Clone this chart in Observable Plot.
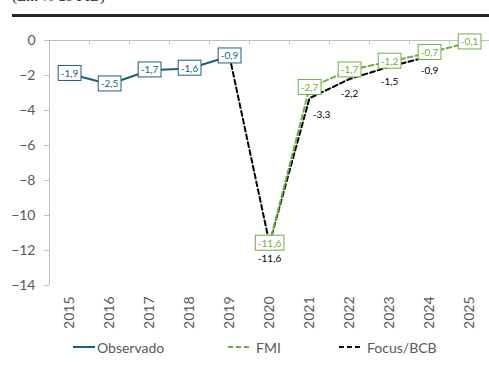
<!DOCTYPE html>
<html><head><meta charset="utf-8">
<script src="https://cdn.jsdelivr.net/npm/d3@7"></script>
<script src="https://cdn.jsdelivr.net/npm/@observablehq/plot@0.6"></script>
<style>
body{margin:0;background:#fff;font-family:Lato,sans-serif;width:489px;overflow:hidden;}
#head{position:relative;height:14px;overflow:hidden;}
#head span{position:absolute;left:12px;top:-12px;font:15px "Liberation Serif",serif;color:#262626;white-space:nowrap;}
#rule{margin-left:12px;height:3px;background:#262626;}
#chart svg{display:block;}
#legend{position:relative;height:20px;font-size:14px;color:#595959;}
#legend .it{position:absolute;top:0;display:flex;align-items:center;height:20px;}
#legend svg{display:block;margin-right:2px;}
</style></head><body>
<div id="head"><span>(Em % do PIB)</span></div>
<div id="rule"></div>
<div id="chart"></div>
<div id="legend"></div>
<script>
const years = [2015, 2016, 2017, 2018, 2019, 2020, 2021, 2022, 2023, 2024, 2025];
const obsYears = [2015, 2016, 2017, 2018, 2019];
const obsValues = [-1.9, -2.5, -1.7, -1.6, -0.9];
const fmiYears = [2020, 2021, 2022, 2023, 2024, 2025];
const fmiValues = [-11.6, -2.7, -1.7, -1.2, -0.7, -0.1];
const focusYears = [2019, 2020, 2021, 2022, 2023, 2024];
const focusValues = [-0.9, -11.6, -3.3, -2.2, -1.5, -0.9];
const yTicks = [0, -2, -4, -6, -8, -10, -12, -14];
const seriesNames = ["Observado", "FMI", "Focus/BCB"];

const teal = "#1d5f7c", green = "#70ad47", black = "#000000";
const fmt = v => String(v).replace(".", ",");
const obs = obsYears.map((x, i) => ({x, v: obsValues[i]}));
const fmi = fmiYears.map((x, i) => ({x, v: fmiValues[i]}));
const focus = focusYears.map((x, i) => ({x, v: focusValues[i]}));
const focusLab = focus.filter(d => !obsYears.includes(d.x));
const bounds = years.map(y => y - 0.5).concat([years[years.length - 1] + 0.5]);

const chart = Plot.plot({
  width: 489, height: 320,
  marginLeft: 49, marginRight: 0, marginTop: 23, marginBottom: 52,
  style: {fontFamily: "Lato, sans-serif", background: "white", overflow: "visible"},
  x: {type: "linear", domain: [years[0] - 0.5, years[years.length - 1] + 0.5]},
  y: {domain: [-14, 0]},
  marks: [
    Plot.ruleY([0], {stroke: "#bfbfbf", strokeWidth: 1}),
    Plot.ruleX([years[0] - 0.5], {y1: -14, y2: 0, stroke: "#bfbfbf"}),
    Plot.ruleX(bounds, {y1: 0, y2: -0.24, stroke: "#bfbfbf"}),
    Plot.axisY(yTicks, {tickSize: 5, tickPadding: 9, stroke: "#bfbfbf", fill: "#595959", fontSize: 14, label: null}),
    Plot.axisX(years, {tickFormat: d => String(d), tickRotate: -90, tickSize: 0, tickPadding: 11, fill: "#595959", fontSize: 14, label: null}),
    Plot.line(focus, {x: "x", y: "v", stroke: black, strokeWidth: 2, strokeDasharray: "5,3"}),
    Plot.line(fmi, {x: "x", y: "v", stroke: green, strokeWidth: 2, strokeDasharray: "5,3"}),
    Plot.line(obs, {x: "x", y: "v", stroke: teal, strokeWidth: 2}),
    Plot.text(focusLab.filter(d => d.x !== 2021), {x: "x", y: "v", text: d => fmt(d.v), dy: 15, fill: black, fontSize: 10}),
    Plot.text(focusLab.filter(d => d.x === 2021), {x: "x", y: "v", text: d => fmt(d.v), dx: 12, dy: 17, fill: black, fontSize: 10}),
    Plot.text(obs, {x: "x", y: "v", text: d => fmt(d.v), fill: teal, fontSize: 10}),
    Plot.text(fmi, {x: "x", y: "v", text: d => fmt(d.v), fill: green, fontSize: 10})
  ]
});
document.getElementById("chart").append(chart);

for (const col of [teal, green]) {
  chart.querySelectorAll(`g[fill="${col}"] text`).forEach(t => {
    const bb = t.getBBox();
    const r = document.createElementNS("http://www.w3.org/2000/svg", "rect");
    r.setAttribute("x", bb.x - 2.5);
    r.setAttribute("width", bb.width + 5);
    r.setAttribute("y", bb.y + bb.height / 2 - 7.5);
    r.setAttribute("height", 15);
    r.setAttribute("fill", "white");
    r.setAttribute("stroke", col);
    r.setAttribute("stroke-width", 1);
    const tr = t.getAttribute("transform");
    if (tr) r.setAttribute("transform", tr);
    t.parentNode.insertBefore(r, t);
  });
}

const legend = document.getElementById("legend");
const legItems = [
  {name: seriesNames[0], color: teal, dash: null, left: 73},
  {name: seriesNames[1], color: green, dash: "5,3", left: 228},
  {name: seriesNames[2], color: black, dash: "5,3", left: 339}
];
for (const it of legItems) {
  const d = document.createElement("div");
  d.className = "it";
  d.style.left = it.left + "px";
  d.innerHTML = `<svg width="22" height="4"><line x1="0" x2="22" y1="2" y2="2" stroke="${it.color}" stroke-width="2" ${it.dash ? `stroke-dasharray="${it.dash}"` : ""}/></svg><span style="margin-left:${it.dash ? 4 : 0}px">${it.name}</span>`;
  legend.append(d);
}
</script>
</body></html>
